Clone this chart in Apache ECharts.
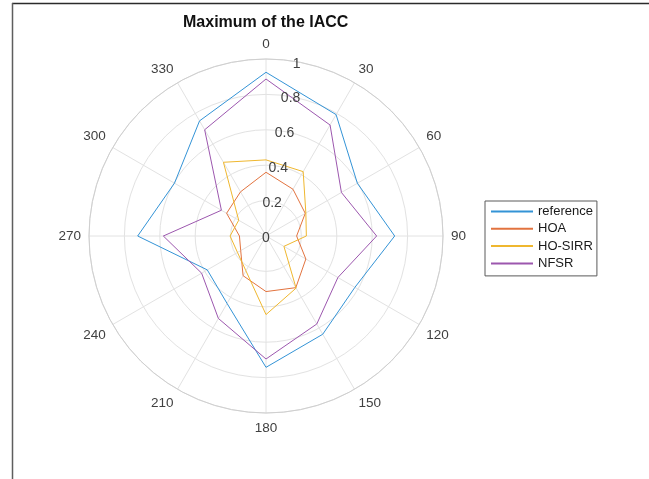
<!DOCTYPE html>
<html>
<head>
<meta charset="utf-8">
<script src="https://cdn.jsdelivr.net/npm/echarts@6/dist/echarts.min.js"></script>
<style>
  html, body { margin: 0; padding: 0; background: #ffffff; }
  #chart { width: 649px; height: 479px; }
</style>
</head>
<body>
<div id="chart"></div>
<script>
// Direction of each measurement, degrees clockwise from the front (top)
const angles = [0, 30, 60, 90, 120, 150, 180, 210, 240, 270, 300, 330];

// Maximum IACC per direction for each rendering method
const reference = [0.925, 0.792, 0.596, 0.727, 0.580, 0.641, 0.742, 0.440, 0.383, 0.725, 0.597, 0.751];
const hoa       = [0.360, 0.305, 0.256, 0.173, 0.260, 0.337, 0.314, 0.259, 0.165, 0.150, 0.257, 0.288];
const hoSirr    = [0.430, 0.420, 0.260, 0.228, 0.117, 0.340, 0.444, 0.227, 0.186, 0.203, 0.178, 0.481];
const nfsr      = [0.887, 0.724, 0.492, 0.625, 0.469, 0.574, 0.695, 0.538, 0.420, 0.580, 0.291, 0.693];

const seriesNames = ['reference', 'HOA', 'HO-SIRR', 'NFSR'];
const seriesValues = [reference, hoa, hoSirr, nfsr];
const seriesColors = ['#3393d6', '#e2733f', '#efb72f', '#9c57ae'];

// Radial scale and its tick spacing
const radiusMin = 0;
const radiusMax = 1;
const radiusStep = 0.2;
const angleStep = 30;

const textColor = '#404040';
const gridColor = '#e2e2e2';
const center = [266, 236];
const outerRadius = 177;

// Closed polygon: [radius, angle] pairs, returning to the first direction
function closedLoop(values) {
  const pts = values.map((v, i) => [v, angles[i]]);
  pts.push([values[0], angles[0]]);
  return pts;
}

const chart = echarts.init(document.getElementById('chart'), null, { renderer: 'canvas' });

const option = {
  backgroundColor: '#ffffff',
  animation: false,
  title: {
    text: 'Maximum of the IACC',
    left: 183,
    top: 15,
    padding: 0,
    textStyle: {
      fontFamily: 'Liberation Sans, Arial, sans-serif',
      fontSize: 16,
      fontWeight: 'bold',
      color: '#111111'
    }
  },
  legend: {
    orient: 'vertical',
    left: 485,
    top: 201,
    padding: [4, 4, 6, 5],
    itemGap: 4.3,
    itemWidth: 42,
    itemHeight: 14,
    borderColor: '#5a5a5a',
    borderWidth: 1,
    backgroundColor: '#ffffff',
    itemStyle: { opacity: 0 },
    data: seriesNames,
    textStyle: {
      fontFamily: 'Liberation Sans, Arial, sans-serif',
      fontSize: 13,
      color: '#1a1a1a'
    }
  },
  polar: [
    { center: center, radius: outerRadius },
    // Label carrier sits a touch lower so the numbers straddle their rings
    { center: [center[0], center[1] + 2], radius: outerRadius }
  ],
  angleAxis: [
    {
      polarIndex: 0,
      type: 'value',
      min: 0,
      max: 360,
      interval: angleStep,
      startAngle: 90,
      clockwise: true,
      axisLine: { show: true, lineStyle: { color: '#cfcfcf', width: 1 } },
      axisTick: { show: false },
      splitLine: { show: true, lineStyle: { color: gridColor, width: 1 } },
      axisLabel: {
        margin: 8,
        fontFamily: 'Liberation Sans, Arial, sans-serif',
        fontSize: 13.5,
        color: textColor,
        formatter: v => (v >= 360 ? '' : String(v))
      }
    },
    {
      // Rotated companion axis: carries the radial tick labels 10° off the top
      polarIndex: 1,
      type: 'value',
      min: 0,
      max: 360,
      startAngle: 80,
      clockwise: true,
      show: false
    }
  ],
  radiusAxis: [
    {
      polarIndex: 0,
      type: 'value',
      min: radiusMin,
      max: radiusMax,
      interval: radiusStep,
      axisLine: { show: false },
      axisTick: { show: false },
      axisLabel: { show: false },
      splitLine: { show: true, lineStyle: { color: gridColor, width: 1 } }
    },
    {
      polarIndex: 1,
      type: 'value',
      min: radiusMin,
      max: radiusMax,
      interval: radiusStep,
      z: 10,
      axisLine: { show: false },
      axisTick: { show: false },
      splitLine: { show: false },
      axisLabel: {
        show: true,
        margin: 0,
        align: 'center',
        verticalAlign: 'middle',
        fontFamily: 'Liberation Sans, Arial, sans-serif',
        fontSize: 14,
        color: textColor
      }
    }
  ],
  series: seriesNames.map((name, k) => ({
    name: name,
    type: 'line',
    coordinateSystem: 'polar',
    polarIndex: 0,
    symbol: 'none',
    smooth: false,
    lineStyle: { color: seriesColors[k], width: 1 },
    itemStyle: { color: seriesColors[k] },
    data: closedLoop(seriesValues[k])
  })),
  graphic: [
    {
      type: 'line',
      shape: { x1: 12, y1: 3.5, x2: 649, y2: 3.5 },
      style: { stroke: '#2b2b2b', lineWidth: 1.5 },
      silent: true
    },
    {
      type: 'line',
      shape: { x1: 12.5, y1: 3, x2: 12.5, y2: 479 },
      style: { stroke: '#5e5e5e', lineWidth: 1.5 },
      silent: true
    }
  ]
};

chart.setOption(option);
</script>
</body>
</html>
